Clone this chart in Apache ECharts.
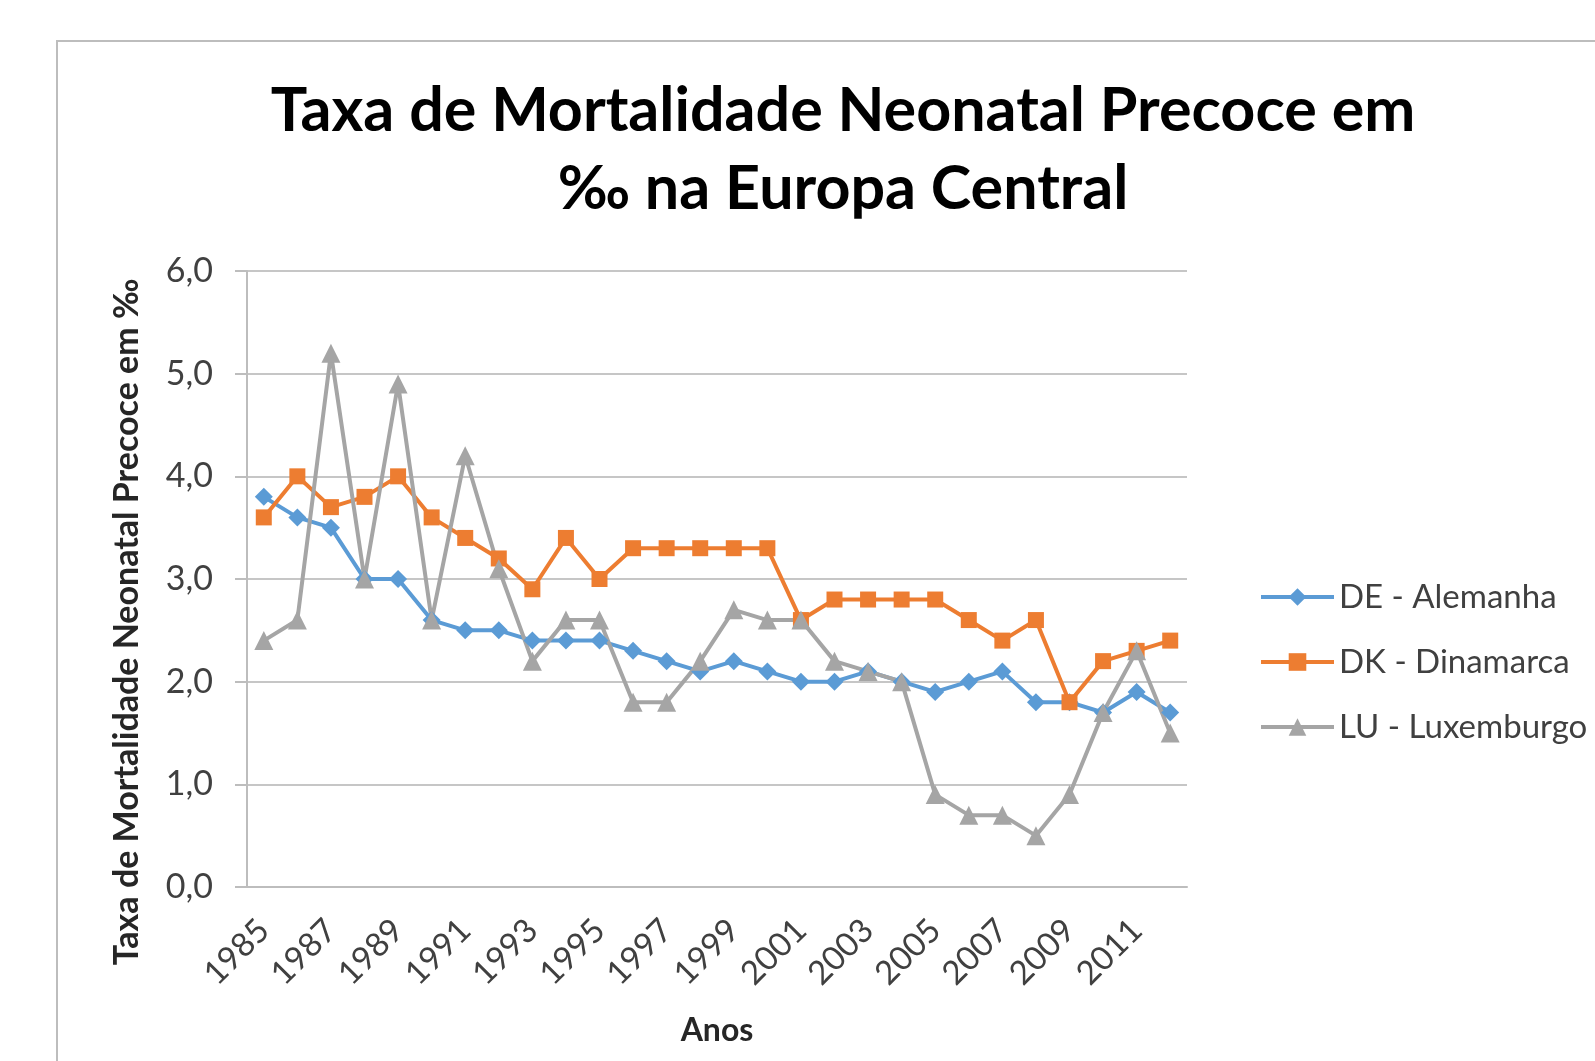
<!DOCTYPE html>
<html>
<head>
<meta charset="utf-8">
<script src="https://cdn.jsdelivr.net/npm/echarts@6/dist/echarts.min.js"></script>
<style>
  html, body { margin: 0; padding: 0; background: #fff; }
  #chart { width: 1595px; height: 1061px; }
</style>
</head>
<body>
<div id="chart"></div>
<script>
// anos 1985..2012
var years = ['1985', '1986', '1987', '1988', '1989', '1990', '1991', '1992', '1993', '1994',
    '1995', '1996', '1997', '1998', '1999', '2000', '2001', '2002', '2003', '2004',
    '2005', '2006', '2007', '2008', '2009', '2010', '2011', '2012'];

var deAlemanha = [3.8, 3.6, 3.5, 3.0, 3.0, 2.6, 2.5, 2.5, 2.4, 2.4,
    2.4, 2.3, 2.2, 2.1, 2.2, 2.1, 2.0, 2.0, 2.1, 2.0,
    1.9, 2.0, 2.1, 1.8, 1.8, 1.7, 1.9, 1.7];

var dkDinamarca = [3.6, 4.0, 3.7, 3.8, 4.0, 3.6, 3.4, 3.2, 2.9, 3.4,
    3.0, 3.3, 3.3, 3.3, 3.3, 3.3, 2.6, 2.8, 2.8, 2.8,
    2.8, 2.6, 2.4, 2.6, 1.8, 2.2, 2.3, 2.4];

var luLuxemburgo = [2.4, 2.6, 5.2, 3.0, 4.9, 2.6, 4.2, 3.1, 2.2, 2.6,
    2.6, 1.8, 1.8, 2.2, 2.7, 2.6, 2.6, 2.2, 2.1, 2.0,
    0.9, 0.7, 0.7, 0.5, 0.9, 1.7, 2.3, 1.5];

var seriesNames = ['DE - Alemanha', 'DK - Dinamarca', 'LU - Luxemburgo'];
var colors = ['#5B9BD5', '#ED7D31', '#A5A5A5'];

var font = 'Lato, "Open Sans", sans-serif';

var myChart = echarts.init(document.getElementById('chart'));
var option = {
    backgroundColor: '#fff',
    color: colors,
    animation: false,
    graphic: [{
        type: 'rect',
        shape: { x: 57, y: 41, width: 1600, height: 1100 },
        style: { fill: 'none', stroke: '#bdbdbd', lineWidth: 2 },
        silent: true
    }],
    title: {
        text: 'Taxa de Mortalidade Neonatal Precoce em\n‰ na Europa Central',
        left: 838,
        top: 67,
        textAlign: 'center',
        textStyle: {
            fontFamily: font,
            fontSize: 61,
            fontWeight: 'bold',
            color: '#000',
            lineHeight: 78
        }
    },
    grid: {
        left: 247,
        right: 408,
        top: 271,
        bottom: 174
    },
    legend: {
        orient: 'vertical',
        left: 1254,
        top: 573,
        itemWidth: 73,
        itemHeight: 22,
        itemGap: 27,
        lineStyle: { width: 4 },
        textStyle: {
            fontFamily: font,
            fontSize: 33,
            color: '#404040',
            lineHeight: 38
        },
        data: seriesNames
    },
    xAxis: {
        type: 'category',
        data: years,
        name: 'Anos',
        nameLocation: 'middle',
        nameGap: 128,
        nameTextStyle: {
            fontFamily: font,
            fontSize: 32,
            fontWeight: 'bold',
            color: '#262626'
        },
        axisLine: {
            lineStyle: { color: '#bdbdbd', width: 2 }
        },
        axisTick: { show: false },
        axisLabel: {
            interval: 1,
            rotate: 45,
            margin: 38,
            fontFamily: font,
            fontSize: 33,
            color: '#404040'
        }
    },
    yAxis: {
        type: 'value',
        min: 0,
        max: 6,
        interval: 1,
        name: 'Taxa de Mortalidade Neonatal Precoce em ‰',
        nameLocation: 'middle',
        nameGap: 103,
        nameRotate: 90,
        nameTextStyle: {
            fontFamily: font,
            fontSize: 34,
            fontWeight: 'bold',
            color: '#262626',
            padding: [0, 86, 0, 0]
        },
        axisLine: {
            show: true,
            lineStyle: { color: '#bdbdbd', width: 2 }
        },
        axisTick: {
            show: true,
            length: 12,
            lineStyle: { color: '#bdbdbd', width: 2 }
        },
        splitLine: {
            lineStyle: { color: '#c6c6c6', width: 2 }
        },
        axisLabel: {
            margin: 34,
            fontFamily: font,
            fontSize: 34,
            color: '#404040',
            formatter: function (v) { return v.toFixed(1).replace('.', ','); }
        }
    },
    series: [{
        name: seriesNames[0],
        type: 'line',
        data: deAlemanha,
        symbol: 'diamond',
        symbolSize: 18,
        lineStyle: { width: 4 }
    }, {
        name: seriesNames[1],
        type: 'line',
        data: dkDinamarca,
        symbol: 'rect',
        symbolSize: 16,
        lineStyle: { width: 4 }
    }, {
        name: seriesNames[2],
        type: 'line',
        data: luLuxemburgo,
        symbol: 'triangle',
        symbolSize: 19,
        lineStyle: { width: 4 }
    }]
};
myChart.setOption(option);
</script>
</body>
</html>
